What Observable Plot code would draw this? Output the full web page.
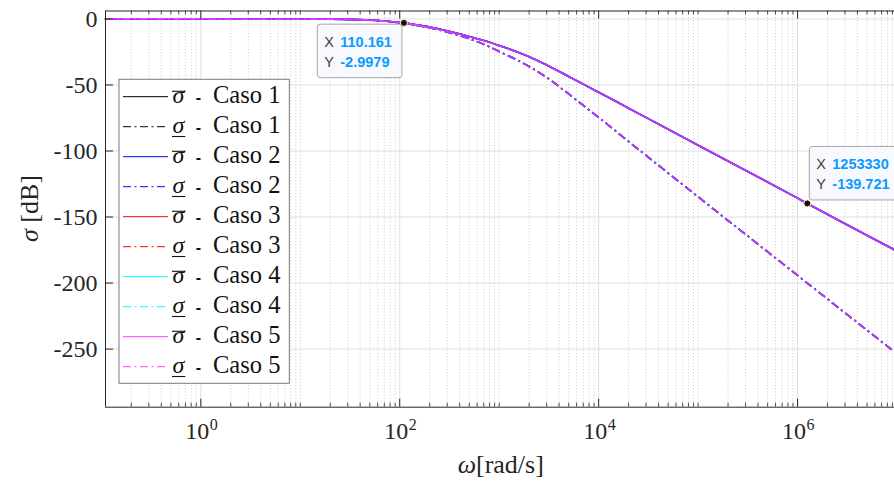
<!DOCTYPE html>
<html>
<head>
<meta charset="utf-8">
<script src="https://cdn.jsdelivr.net/npm/d3@7"></script>
<script src="https://cdn.jsdelivr.net/npm/@observablehq/plot@0.6"></script>
<style>
  html, body { margin: 0; padding: 0; background: #fff; }
  svg { display: block; }
</style>
</head>
<body>
<div id="chart"></div>
<script>
// ---------------- data ----------------
const omegaMax = [0.11, 1, 10, 20, 30, 50, 70, 90, 110.161, 150, 200, 300, 500, 700, 1000, 1500, 2000, 3000, 5000, 7000, 10000, 20000, 50000, 100000, 1000000, 1253330, 10000000];
const sigmaMax = [0, 0, -0.04, -0.14, -0.32, -0.85, -1.55, -2.3, -2.9979, -4.5, -6.1, -9.0, -13.3, -16.4, -20.2, -24.8, -28.6, -34.9, -43.6, -49.4, -55.5, -67.6, -83.5, -95.6, -135.7, -139.721, -175.8];

const omegaMin = [0.11, 1, 10, 20, 30, 50, 70, 90, 110, 150, 200, 300, 500, 700, 1000, 1500, 2000, 3000, 5000, 7000, 10000, 20000, 50000, 100000, 1000000, 10000000];
const sigmaMin = [0, 0, -0.04, -0.15, -0.34, -0.9, -1.7, -2.5, -3.3, -4.9, -6.7, -9.9, -15.0, -19.2, -24.6, -31.0, -36.0, -44.3, -56.8, -65.5, -74.6, -92.8, -116.7, -134.7, -194.2, -253.6];

const cases = ["Caso 1", "Caso 2", "Caso 3", "Caso 4", "Caso 5"];
const caseColors = ["#000000", "#0000ff", "#ff0000", "#00ffff", "#ff40ff"];

const xTickExps = [0, 2, 4, 6];
const yTicks = [0, -50, -100, -150, -200, -250];

const tipX = [110.161, 1253330];
const tipY = [-2.9979, -139.721];
const tipXText = ["110.161", "1253330"];
const tipYText = ["-2.9979", "-139.721"];

// ---------------- layout ----------------
const WIDTH = 894, HEIGHT = 487;
const mL = 105, mR = -2.5, mT = 10.5, mB = 80.3;
const FW = WIDTH - mL - mR;      // frame width
const FH = HEIGHT - mT - mB;     // frame height
const SERIF = "'Liberation Serif', 'Times New Roman', serif";
const SANS = "'Liberation Sans', Arial, sans-serif";
const xDomain = [0.11, 1e7];
const yDomain = [-294, 6];

const majorX = xTickExps.map(e => 10 ** e);
const minorX = [];
for (let d = -1; d <= 6; d++) {
  for (let k = 1; k <= 9; k++) {
    const v = k * 10 ** d;
    if (v >= xDomain[0] && v <= xDomain[1] && !(k === 1 && d % 2 === 0 && d >= 0)) minorX.push(v);
  }
}

const rowsMax = omegaMax.map((w, j) => ({w, s: sigmaMax[j]}));
const rowsMin = omegaMin.map((w, j) => ({w, s: sigmaMin[j]}));
const tips = tipX.map((x, i) => ({x, y: tipY[i]}));

const DASHDOT = "8,3.5,2,3.5";
const drawOrder = [0, 2, 3, 1, 4];
const lineMarks = [];
for (const i of drawOrder) {
  const op = i === 4 ? 0.8 : 1;
  lineMarks.push(Plot.line(rowsMax, {x: "w", y: "s", stroke: caseColors[i], strokeWidth: 1.6, strokeOpacity: op, curve: "monotone-x"}));
  lineMarks.push(Plot.line(rowsMin, {x: "w", y: "s", stroke: caseColors[i], strokeWidth: 1.6, strokeOpacity: op, strokeDasharray: DASHDOT, strokeLinecap: "butt", curve: "monotone-x"}));
}

const AX = "#262626";
const plot = Plot.plot({
  width: WIDTH,
  height: HEIGHT,
  marginLeft: mL, marginRight: mR, marginTop: mT, marginBottom: mB,
  x: {type: "log", domain: xDomain, range: [mL, WIDTH - mR], axis: null},
  y: {domain: yDomain, range: [HEIGHT - mB, mT], axis: null},
  style: {background: "#fff", overflow: "hidden"},
  marks: [
    // grid
    Plot.ruleX(minorX, {stroke: "#bdbdbd", strokeWidth: 0.8, strokeDasharray: "1,2.2"}),
    Plot.ruleX(majorX, {stroke: "#dfdfdf", strokeWidth: 1}),
    Plot.ruleY(yTicks, {stroke: "#dfdfdf", strokeWidth: 1}),
    // curves
    ...lineMarks,
    // axes box
    Plot.ruleX([xDomain[0]], {stroke: AX, strokeWidth: 1}),
    Plot.ruleY([yDomain[0]], {stroke: AX, strokeWidth: 1}),
    Plot.ruleY([yDomain[1]], {stroke: AX, strokeWidth: 1}),
    // ticks (inside)
    Plot.ruleX(majorX, {stroke: AX, strokeWidth: 1, insetTop: FH - 8}),
    Plot.ruleX(majorX, {stroke: AX, strokeWidth: 1, insetBottom: FH - 8}),
    Plot.ruleX(minorX, {stroke: AX, strokeWidth: 0.8, insetTop: FH - 4}),
    Plot.ruleX(minorX, {stroke: AX, strokeWidth: 0.8, insetBottom: FH - 4}),
    Plot.ruleY(yTicks, {stroke: AX, strokeWidth: 1, insetRight: FW - 8}),
    // tick labels
    Plot.text(yTicks, {x: xDomain[0], y: d => d, text: d => String(d), textAnchor: "end", dx: -8, fontSize: 24, fontFamily: SERIF, fill: AX}),
    Plot.text(xTickExps, {x: d => 10 ** d, y: yDomain[0], text: () => "10", textAnchor: "end", lineAnchor: "bottom", dx: 8.5, dy: 31.5, fontSize: 24, fontFamily: SERIF, fill: AX}),
    Plot.text(xTickExps, {x: d => 10 ** d, y: yDomain[0], text: d => String(d), textAnchor: "start", lineAnchor: "bottom", dx: 9, dy: 22.5, fontSize: 16, fontFamily: SERIF, fill: AX}),
    // data tip markers
    Plot.dot(tips, {x: "x", y: "y", r: 3.5, fill: "#111", stroke: "#fff7c8", strokeWidth: 1})
  ]
});
document.getElementById("chart").appendChild(plot);

// ---------------- decorations (labels, legend, data tips) ----------------
const svg = d3.select(plot);
const sx = plot.scale("x"), sy = plot.scale("y");

// axis labels
const xl = svg.append("text")
  .attr("x", mL + FW / 2).attr("y", 473)
  .attr("text-anchor", "middle")
  .attr("font-family", SERIF).attr("font-size", 26).attr("fill", AX);
xl.append("tspan").attr("font-style", "italic").text("ω");
xl.append("tspan").text("[rad/s]");

const yl = svg.append("text")
  .attr("transform", `translate(38,${mT + FH / 2}) rotate(-90)`)
  .attr("text-anchor", "middle")
  .attr("font-family", SERIF).attr("font-size", 26).attr("fill", AX);
yl.append("tspan").attr("font-style", "italic").text("σ");
yl.append("tspan").text(" [dB]");

// legend
const lg = svg.append("g").attr("text-anchor", "start");
lg.append("rect").attr("x", 119).attr("y", 79.3).attr("width", 170.3).attr("height", 304)
  .attr("fill", "#fff").attr("stroke", "#7a7a7a").attr("stroke-width", 1);
const entries = [];
cases.forEach((c, i) => {
  entries.push({c, color: caseColors[i], upper: true});
  entries.push({c, color: caseColors[i], upper: false});
});
entries.forEach((e, k) => {
  const cy = 96.7 + 30 * k;
  const base = cy + 6.6;
  lg.append("line").attr("x1", 123).attr("x2", 168).attr("y1", cy).attr("y2", cy)
    .attr("stroke", e.color).attr("stroke-width", 1)
    .attr("stroke-dasharray", e.upper ? null : DASHDOT);
  const s = lg.append("text").attr("x", 172.5).attr("y", base).attr("text-anchor", "start")
    .attr("font-family", SERIF).attr("font-size", 24).attr("font-style", "italic").attr("fill", "#111").text("σ");
  const sw = s.node().getComputedTextLength();
  const ly = e.upper ? base - 12 : base + 3.2;
  lg.append("line").attr("x1", 172).attr("x2", 172 + sw + 1.5).attr("y1", ly).attr("y2", ly)
    .attr("stroke", "#111").attr("stroke-width", 1.1);
  lg.append("text").attr("x", 198.5).attr("y", base).attr("text-anchor", "middle")
    .attr("font-family", SANS).attr("font-weight", "bold").attr("font-size", 16).attr("fill", "#111").text("-");
  lg.append("text").attr("x", 213).attr("y", base).attr("text-anchor", "start")
    .attr("font-family", SERIF).attr("font-size", 24.5).attr("fill", "#111").text(e.c);
});

// data tips
function dataTip(i, placement) {
  const px = sx.apply(tipX[i]), py = sy.apply(tipY[i]);
  const g = svg.append("g").attr("text-anchor", "start");
  const rect = g.append("rect").attr("rx", 3).attr("ry", 3)
    .attr("fill", "#f8f9fe").attr("stroke", "#a6a6a6").attr("stroke-width", 1);
  const mk = (lab, val, yOff) => {
    const l = g.append("text").attr("font-family", SANS).attr("font-size", 14.5)
      .attr("text-anchor", "start").attr("fill", "#404040").text(lab);
    const v = g.append("text").attr("font-family", SANS).attr("font-size", 14.5)
      .attr("text-anchor", "start").attr("fill", "#0a9bff").attr("font-weight", "bold").text(val);
    return {l, v, yOff};
  };
  const r1 = mk("X", tipXText[i], 22.7), r2 = mk("Y", tipYText[i], 42.7);
  const vw = Math.max(r1.v.node().getComputedTextLength(), r2.v.node().getComputedTextLength());
  const bw = 23 + vw + 10, bh = 53.5;
  let bx, by;
  if (placement === "bl") { bx = px - 1.5 - bw; by = py + 1.8; }
  else { bx = px + 2.5; by = py - 3 - bh; }
  rect.attr("x", bx).attr("y", by).attr("width", bw).attr("height", bh);
  for (const r of [r1, r2]) {
    r.l.attr("x", bx + 7).attr("y", by + r.yOff);
    r.v.attr("x", bx + 23).attr("y", by + r.yOff);
  }
}
dataTip(0, "bl");
dataTip(1, "tr");
</script>
</body>
</html>
